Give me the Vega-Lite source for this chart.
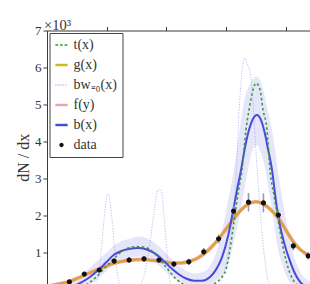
{
  "$schema": "https://vega.github.io/schema/vega-lite/v6.json",
  "autosize": {"type": "none"},
  "padding": {"left": 47, "top": 30.5, "right": 0, "bottom": 0},
  "width": 263,
  "height": 253.5,
  "background": "white",
  "config": {
    "view": {"stroke": null},
    "font": "Liberation Serif",
    "axis": {"domainColor": "#3a3a3a", "tickColor": "#3a3a3a", "grid": false, "labelColor": "#333", "titleColor": "#333"}
  },
  "title": {"text": "×10³", "anchor": "start", "frame": "group", "offset": -9, "dx": -3, "fontSize": 14.5, "fontWeight": "normal", "font": "Liberation Serif", "color": "#333"},
  "datasets": {
    "b": [
      {"x": 0, "y": -0.05, "lo": -0.2, "hi": 0.1},
      {"x": 0.251, "y": 0.02, "lo": -0.1, "hi": 0.15},
      {"x": 0.519, "y": 0.16, "lo": 0.0, "hi": 0.35},
      {"x": 0.72, "y": 0.35, "lo": 0.15, "hi": 0.6},
      {"x": 0.854, "y": 0.53, "lo": 0.3, "hi": 0.8},
      {"x": 0.988, "y": 0.74, "lo": 0.5, "hi": 1.0},
      {"x": 1.122, "y": 0.95, "lo": 0.7, "hi": 1.2},
      {"x": 1.256, "y": 1.06, "lo": 0.82, "hi": 1.32},
      {"x": 1.39, "y": 1.11, "lo": 0.88, "hi": 1.38},
      {"x": 1.524, "y": 1.13, "lo": 0.9, "hi": 1.44},
      {"x": 1.658, "y": 1.1, "lo": 0.87, "hi": 1.4},
      {"x": 1.792, "y": 1.0, "lo": 0.76, "hi": 1.28},
      {"x": 1.926, "y": 0.83, "lo": 0.58, "hi": 1.1},
      {"x": 2.06, "y": 0.62, "lo": 0.4, "hi": 0.88},
      {"x": 2.194, "y": 0.44, "lo": 0.24, "hi": 0.68},
      {"x": 2.328, "y": 0.31, "lo": 0.12, "hi": 0.52},
      {"x": 2.462, "y": 0.25, "lo": 0.08, "hi": 0.45},
      {"x": 2.596, "y": 0.25, "lo": 0.08, "hi": 0.48},
      {"x": 2.73, "y": 0.35, "lo": 0.12, "hi": 0.65},
      {"x": 2.831, "y": 0.55, "lo": 0.25, "hi": 1.0},
      {"x": 2.931, "y": 0.88, "lo": 0.4, "hi": 1.6},
      {"x": 3.032, "y": 1.45, "lo": 0.7, "hi": 2.4},
      {"x": 3.116, "y": 2.13, "lo": 1.2, "hi": 3.1},
      {"x": 3.183, "y": 2.7, "lo": 1.7, "hi": 3.8},
      {"x": 3.25, "y": 3.24, "lo": 2.2, "hi": 4.6},
      {"x": 3.317, "y": 3.85, "lo": 2.8, "hi": 5.2},
      {"x": 3.384, "y": 4.32, "lo": 3.4, "hi": 5.5},
      {"x": 3.451, "y": 4.62, "lo": 3.8, "hi": 5.7},
      {"x": 3.518, "y": 4.72, "lo": 3.9, "hi": 5.75},
      {"x": 3.585, "y": 4.58, "lo": 3.7, "hi": 5.6},
      {"x": 3.652, "y": 4.2, "lo": 3.3, "hi": 5.2},
      {"x": 3.702, "y": 3.8, "lo": 2.8, "hi": 4.8},
      {"x": 3.769, "y": 3.24, "lo": 2.2, "hi": 4.3},
      {"x": 3.819, "y": 2.6, "lo": 1.6, "hi": 3.8},
      {"x": 3.869, "y": 2.02, "lo": 1.1, "hi": 3.2},
      {"x": 3.936, "y": 1.5, "lo": 0.7, "hi": 2.5},
      {"x": 4.003, "y": 1.1, "lo": 0.4, "hi": 1.9},
      {"x": 4.07, "y": 0.78, "lo": 0.2, "hi": 1.3},
      {"x": 4.137, "y": 0.5, "lo": 0.1, "hi": 0.9},
      {"x": 4.238, "y": 0.22, "lo": 0.0, "hi": 0.5},
      {"x": 4.338, "y": 0.1, "lo": -0.05, "hi": 0.3},
      {"x": 4.489, "y": 0.05, "lo": -0.05, "hi": 0.2},
      {"x": 4.657, "y": 0.03, "lo": -0.05, "hi": 0.15}
    ],
    "t": [
      {"x": 0, "y": 0.0}, {"x": 0.385, "y": 0.0}, {"x": 0.637, "y": 0.12}, {"x": 0.804, "y": 0.32},
      {"x": 0.972, "y": 0.6}, {"x": 1.106, "y": 0.82}, {"x": 1.24, "y": 1.02}, {"x": 1.357, "y": 1.13},
      {"x": 1.491, "y": 1.17}, {"x": 1.625, "y": 1.16}, {"x": 1.759, "y": 1.05}, {"x": 1.893, "y": 0.82},
      {"x": 2.027, "y": 0.55}, {"x": 2.161, "y": 0.3}, {"x": 2.295, "y": 0.14}, {"x": 2.429, "y": 0.05},
      {"x": 2.563, "y": 0.02}, {"x": 2.73, "y": 0.08}, {"x": 2.831, "y": 0.2}, {"x": 2.931, "y": 0.35},
      {"x": 2.998, "y": 0.55}, {"x": 3.065, "y": 1.1}, {"x": 3.132, "y": 1.85}, {"x": 3.199, "y": 2.6},
      {"x": 3.266, "y": 3.24}, {"x": 3.333, "y": 4.32}, {"x": 3.384, "y": 4.86}, {"x": 3.451, "y": 5.4},
      {"x": 3.501, "y": 5.58}, {"x": 3.568, "y": 5.4}, {"x": 3.618, "y": 4.86}, {"x": 3.685, "y": 4.32},
      {"x": 3.735, "y": 3.24}, {"x": 3.802, "y": 2.55}, {"x": 3.869, "y": 1.9}, {"x": 3.936, "y": 1.3},
      {"x": 4.003, "y": 0.8}, {"x": 4.07, "y": 0.45}, {"x": 4.154, "y": 0.2}, {"x": 4.271, "y": 0.07},
      {"x": 4.405, "y": 0.03}, {"x": 4.573, "y": 0.02}
    ],
    "g": [
      {"x": 0, "y": 0.1}, {"x": 0.126, "y": 0.14}, {"x": 0.251, "y": 0.18}, {"x": 0.375, "y": 0.23},
      {"x": 0.5, "y": 0.31}, {"x": 0.625, "y": 0.4}, {"x": 0.75, "y": 0.49}, {"x": 0.875, "y": 0.57},
      {"x": 1.0, "y": 0.65}, {"x": 1.125, "y": 0.72}, {"x": 1.25, "y": 0.77}, {"x": 1.375, "y": 0.8},
      {"x": 1.5, "y": 0.82}, {"x": 1.625, "y": 0.82}, {"x": 1.75, "y": 0.8}, {"x": 1.875, "y": 0.78},
      {"x": 2.0, "y": 0.75}, {"x": 2.125, "y": 0.73}, {"x": 2.25, "y": 0.73}, {"x": 2.375, "y": 0.77},
      {"x": 2.5, "y": 0.84}, {"x": 2.625, "y": 0.97}, {"x": 2.75, "y": 1.15}, {"x": 2.875, "y": 1.38},
      {"x": 3.0, "y": 1.65}, {"x": 3.125, "y": 1.92}, {"x": 3.25, "y": 2.16}, {"x": 3.375, "y": 2.32},
      {"x": 3.5, "y": 2.38}, {"x": 3.625, "y": 2.32}, {"x": 3.75, "y": 2.16}, {"x": 3.875, "y": 1.94},
      {"x": 4.0, "y": 1.62}, {"x": 4.125, "y": 1.3}, {"x": 4.25, "y": 1.08}, {"x": 4.375, "y": 0.94},
      {"x": 4.5, "y": 0.82}, {"x": 4.625, "y": 0.72}
    ],
    "b0": [
      {"x": 0, "y": 0.1}, {"x": 0.385, "y": -0.2}, {"x": 0.72, "y": -0.1}, {"x": 0.838, "y": 0.2},
      {"x": 0.905, "y": 1.0}, {"x": 0.955, "y": 1.9}, {"x": 1.022, "y": 2.6}, {"x": 1.089, "y": 1.9},
      {"x": 1.139, "y": 1.0}, {"x": 1.206, "y": 0.2}, {"x": 1.307, "y": -0.2}, {"x": 1.474, "y": -0.1},
      {"x": 1.558, "y": 0.1}, {"x": 1.658, "y": 0.6}, {"x": 1.725, "y": 1.3}, {"x": 1.792, "y": 2.1},
      {"x": 1.859, "y": 2.7}, {"x": 1.91, "y": 2.7}, {"x": 1.96, "y": 2.0}, {"x": 2.01, "y": 1.0},
      {"x": 2.06, "y": 0.2}, {"x": 2.161, "y": -0.2}, {"x": 2.395, "y": -0.3}, {"x": 2.647, "y": -0.2},
      {"x": 2.814, "y": 0.0}, {"x": 2.982, "y": 0.6}, {"x": 3.099, "y": 1.8}, {"x": 3.166, "y": 3.0},
      {"x": 3.216, "y": 4.8}, {"x": 3.25, "y": 5.6}, {"x": 3.283, "y": 6.1}, {"x": 3.317, "y": 6.26},
      {"x": 3.35, "y": 6.1}, {"x": 3.4, "y": 5.9}, {"x": 3.434, "y": 5.45}, {"x": 3.467, "y": 4.6},
      {"x": 3.518, "y": 3.3}, {"x": 3.568, "y": 2.2}, {"x": 3.635, "y": 1.0}, {"x": 3.735, "y": 0.1},
      {"x": 3.987, "y": -0.2}, {"x": 4.238, "y": 0.0}, {"x": 4.573, "y": 0.1}
    ],
    "pts": [
      {"s": "data", "x": 0.125, "y": 0.08, "err": 0.04},
      {"s": "data", "x": 0.375, "y": 0.22, "err": 0.05},
      {"s": "data", "x": 0.625, "y": 0.43, "err": 0.06},
      {"s": "data", "x": 0.875, "y": 0.54, "err": 0.07},
      {"s": "data", "x": 1.125, "y": 0.78, "err": 0.08},
      {"s": "data", "x": 1.375, "y": 0.81, "err": 0.08},
      {"s": "data", "x": 1.625, "y": 0.84, "err": 0.08},
      {"s": "data", "x": 1.875, "y": 0.81, "err": 0.08},
      {"s": "data", "x": 2.125, "y": 0.7, "err": 0.08},
      {"s": "data", "x": 2.375, "y": 0.76, "err": 0.08},
      {"s": "data", "x": 2.625, "y": 1.03, "err": 0.1},
      {"s": "data", "x": 2.875, "y": 1.38, "err": 0.12},
      {"s": "data", "x": 3.125, "y": 2.13, "err": 0.15},
      {"s": "data", "x": 3.375, "y": 2.37, "err": 0.25},
      {"s": "data", "x": 3.625, "y": 2.35, "err": 0.25},
      {"s": "data", "x": 3.875, "y": 2.02, "err": 0.15},
      {"s": "data", "x": 4.125, "y": 1.19, "err": 0.12},
      {"s": "data", "x": 4.375, "y": 0.92, "err": 0.1}
    ]
  },
  "encoding": {
    "x": {"field": "x", "type": "quantitative",
      "scale": {"domain": [0, 4.405], "nice": false, "zero": false},
      "axis": {"orient": "top", "values": [1, 2, 3, 4], "labels": false, "title": null, "tickSize": 4, "domain": true}},
    "y": {"field": "y", "type": "quantitative",
      "scale": {"domain": [0.162, 7], "nice": false, "zero": false},
      "axis": {"values": [1, 2, 3, 4, 5, 6, 7], "tickSize": 4, "labelPadding": 2, "labelFontSize": 13, "labelFont": "Liberation Serif",
        "title": "dN / dx", "titleFont": "Liberation Serif", "titleFontSize": 16, "titleFontWeight": "normal", "titlePadding": 3}}
  },
  "layer": [
    {
      "data": {"name": "b"},
      "mark": {"type": "area", "color": "#d6d6f6", "opacity": 0.6, "interpolate": "monotone", "clip": true},
      "encoding": {"y": {"field": "lo", "type": "quantitative"}, "y2": {"field": "hi"}}
    },
    {
      "data": {"name": "b0"},
      "mark": {"type": "line", "stroke": "#8e8eea", "strokeWidth": 1, "strokeDash": [1.2, 1.4], "opacity": 0.55, "interpolate": "monotone", "clip": true},
      "encoding": {}
    },
    {
      "data": {"name": "g"},
      "mark": {"type": "line", "stroke": "#eaa0a4", "strokeWidth": 3.6, "interpolate": "monotone", "clip": true},
      "encoding": {}
    },
    {
      "data": {"name": "g"},
      "mark": {"type": "line", "stroke": "#dca418", "strokeWidth": 2, "opacity": 0.9, "interpolate": "monotone", "clip": true},
      "encoding": {}
    },
    {
      "data": {"name": "b"},
      "mark": {"type": "line", "stroke": "#4a4ad8", "strokeWidth": 2, "interpolate": "monotone", "clip": true},
      "encoding": {}
    },
    {
      "data": {"name": "t"},
      "mark": {"type": "line", "stroke": "#3a9a3a", "strokeWidth": 1.6, "strokeDash": [2.5, 2.5], "interpolate": "monotone", "clip": true},
      "encoding": {}
    },
    {
      "data": {"name": "pts"},
      "mark": {"type": "rule", "stroke": "#9599b5", "strokeWidth": 1.6, "clip": true},
      "encoding": {
        "y": {"field": "lo_e", "type": "quantitative"},
        "y2": {"field": "hi_e"}
      },
      "transform": [
        {"calculate": "datum.y - datum.err", "as": "lo_e"},
        {"calculate": "datum.y + datum.err", "as": "hi_e"}
      ]
    },
    {
      "data": {"name": "pts"},
      "mark": {"type": "point", "filled": true, "size": 220, "opacity": 1, "strokeWidth": 0, "clip": true},
      "encoding": {
        "color": {"field": "s", "type": "nominal",
          "scale": {"domain": ["t(x)", "g(x)", "bw₌₀(x)", "f(y)", "b(x)", "data"],
                    "range": ["#2e9a2e", "#cdbb1c", "#8c8cf0", "#e6a4ac", "#4a4ad8", "#111111"]},
          "legend": {
            "title": null, "orient": "none", "legendX": 2.5, "legendY": 2.5,
            "strokeColor": "#444", "fillColor": "white", "padding": 5,
            "labelFont": "Liberation Serif", "labelFontSize": 14, "labelColor": "#333",
            "labelOffset": 5, "rowPadding": 6, "symbolSize": 150, "symbolStrokeWidth": 0, "symbolOpacity": 1
          }
        },
        "shape": {"field": "s", "type": "nominal",
          "scale": {"domain": ["t(x)", "g(x)", "bw₌₀(x)", "f(y)", "b(x)", "data"],
                    "range": [
                      "M-1,-0.13H-0.55V0.13H-1Z M-0.25,-0.13H0.2V0.13H-0.25Z M0.5,-0.13H0.95V0.13H0.5Z",
                      "M-1,-0.2H1V0.2H-1Z",
                      "M-1,-0.09h0.18v0.18h-0.18Z M-0.6,-0.09h0.18v0.18h-0.18Z M-0.2,-0.09h0.18v0.18h-0.18Z M0.2,-0.09h0.18v0.18h-0.18Z M0.6,-0.09h0.18v0.18h-0.18Z",
                      "M-1,-0.2H1V0.2H-1Z",
                      "M-1,-0.2H1V0.2H-1Z",
                      "M-0.35,0A0.35,0.35,0,1,0,0.35,0A0.35,0.35,0,1,0,-0.35,0Z"
                    ]},
          "legend": {
            "title": null, "orient": "none", "legendX": 2.5, "legendY": 2.5,
            "strokeColor": "#444", "fillColor": "white", "padding": 5,
            "labelFont": "Liberation Serif", "labelFontSize": 14, "labelColor": "#333",
            "labelOffset": 5, "rowPadding": 6, "symbolSize": 150, "symbolStrokeWidth": 0, "symbolOpacity": 1
          }
        }
      }
    }
  ]
}
